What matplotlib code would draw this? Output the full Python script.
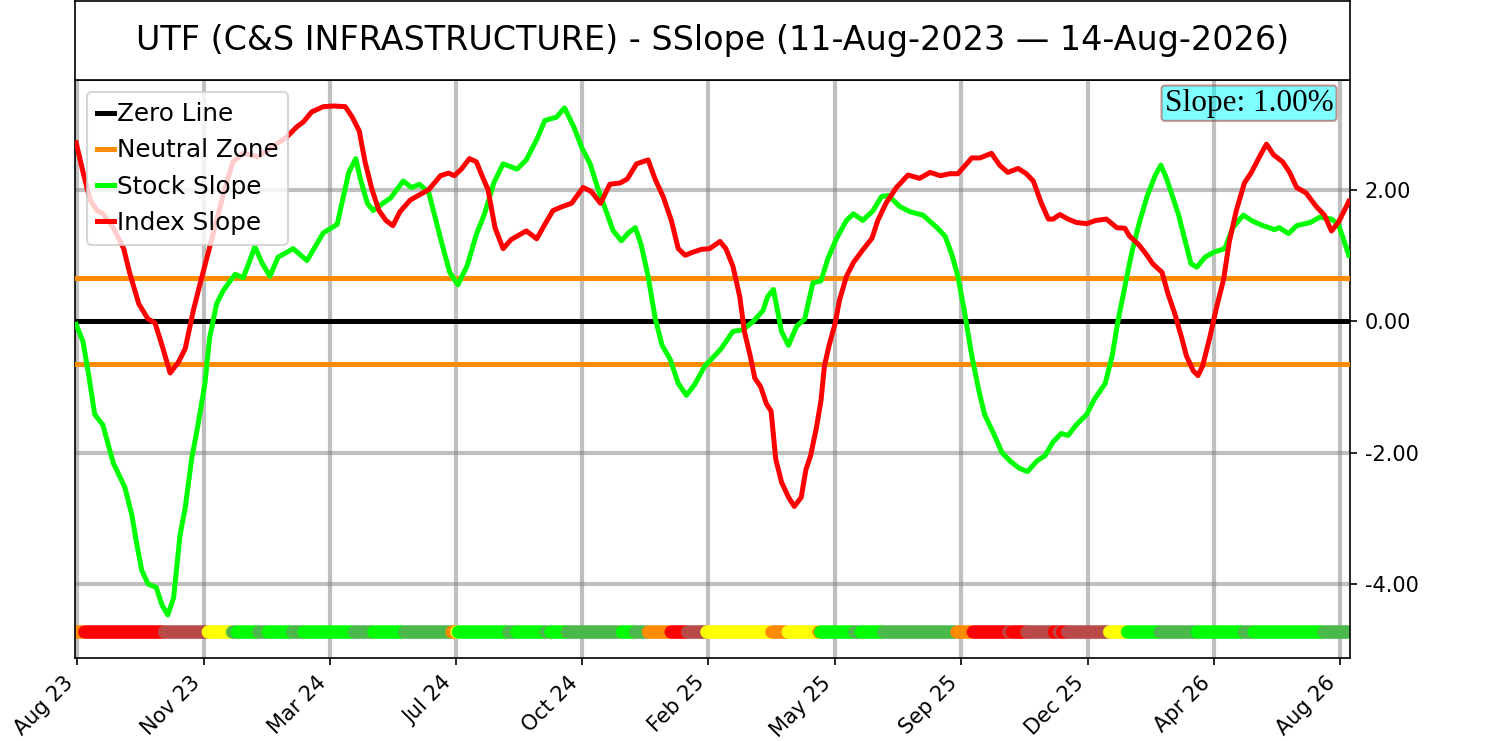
import numpy as np
import pandas as pd
import matplotlib
matplotlib.use("Agg")
import matplotlib.pyplot as plt
import matplotlib.dates as mdates
from matplotlib.ticker import FormatStrFormatter

# ---------------- data ----------------
START = pd.Timestamp("2023-08-11")
END = pd.Timestamp("2026-08-14")
TITLE = "UTF (C&S INFRASTRUCTURE) - SSlope (11-Aug-2023 \u2014 14-Aug-2026)"

stock_days = [1, 7, 11.5, 17, 24, 33, 43, 49, 53, 57.5, 63, 70, 75, 80, 85, 90.5, 95, 100.5, 106, 112,
              116, 122, 128, 138, 145, 149, 155, 161, 168, 175, 188, 200, 208, 214, 226, 230, 236, 242,
              246, 252, 257, 263, 272, 283, 290, 297, 305, 315, 323, 330, 338, 346, 353, 361, 369, 381,
              389, 398, 405, 415, 422, 430, 437, 444, 451, 458, 464, 471, 477, 483, 488, 494, 500, 506,
              513, 520, 527, 534, 543, 547, 557, 567, 576, 585, 593, 597, 602, 609, 615, 622, 629, 636,
              643, 649, 656, 665, 671, 679, 688, 695, 701, 711, 720, 731, 743, 750, 756, 761, 767, 773,
              779, 784, 791, 799, 806, 814, 821, 829, 836, 843, 850, 856, 863, 872, 879, 888, 894, 899,
              905, 911, 917, 924, 931, 936, 941, 947, 951, 957, 962, 967, 974, 982, 991, 998, 1007,
              1015, 1024, 1034, 1038, 1046, 1053, 1065, 1073, 1083, 1089, 1098]
stock_slope = [-0.05, -0.32, -0.79, -1.42, -1.58, -2.16, -2.53, -2.95, -3.37, -3.79, -4.0, -4.05, -4.32,
               -4.47, -4.21, -3.26, -2.84, -2.1, -1.58, -0.95, -0.26, 0.26, 0.47, 0.71, 0.66, 0.84, 1.13,
               0.89, 0.68, 0.97, 1.1, 0.92, 1.16, 1.34, 1.47, 1.79, 2.26, 2.47, 2.16, 1.79, 1.68, 1.76,
               1.87, 2.13, 2.03, 2.08, 1.95, 1.26, 0.74, 0.55, 0.84, 1.32, 1.63, 2.1, 2.39, 2.31, 2.45,
               2.76, 3.05, 3.1, 3.24, 2.95, 2.63, 2.39, 2.0, 1.66, 1.37, 1.22, 1.34, 1.42, 1.16, 0.68,
               0.05, -0.37, -0.58, -0.95, -1.13, -0.97, -0.68, -0.61, -0.42, -0.16, -0.13, 0.0, 0.16,
               0.37, 0.48, -0.16, -0.37, -0.08, 0.03, 0.58, 0.61, 0.95, 1.24, 1.53, 1.63, 1.53, 1.68,
               1.89, 1.91, 1.74, 1.66, 1.61, 1.42, 1.29, 1.0, 0.68, 0.11, -0.53, -1.05, -1.42, -1.68,
               -2.0, -2.13, -2.24, -2.29, -2.13, -2.05, -1.84, -1.71, -1.74, -1.58, -1.42, -1.18, -0.95,
               -0.53, 0.0, 0.53, 1.05, 1.47, 1.89, 2.21, 2.37, 2.16, 1.84, 1.63, 1.21, 0.87, 0.82, 0.97,
               1.05, 1.1, 1.42, 1.61, 1.52, 1.45, 1.39, 1.42, 1.33, 1.45, 1.5, 1.58, 1.55, 1.47, 1.0]

index_days = [1, 7, 13, 19, 24, 33, 42, 47, 55, 63, 69, 75, 82, 89, 95, 102, 108, 115, 122, 129, 136,
              145, 158, 171, 182, 191, 197, 204, 214, 223, 233, 239, 245, 250, 256, 262, 268, 274, 280,
              289, 297, 305, 315, 322, 327, 333, 340, 346, 352, 356, 362, 369, 376, 384, 389, 398, 405,
              412, 420, 428, 438, 445, 453, 461, 470, 476, 484, 494, 500, 507, 514, 520, 526, 533, 540,
              547, 556, 561, 567, 573, 577, 582, 586, 591, 596, 600, 604, 609, 615, 620, 626, 630, 634,
              639, 643, 646, 650, 655, 659, 665, 671, 679, 687, 692, 699, 708, 718, 728, 737, 746, 754,
              761, 773, 780, 790, 797, 804, 813, 820, 826, 833, 839, 843, 849, 856, 863, 872, 880, 889,
              898, 905, 909, 917, 924, 929, 937, 942, 948, 954, 958, 964, 968, 972, 978, 984, 990, 995,
              1001, 1008, 1014, 1021, 1027, 1033, 1041, 1047, 1053, 1061, 1070, 1077, 1083, 1089, 1098]
index_slope = [2.71, 2.26, 1.84, 1.68, 1.63, 1.42, 1.1, 0.74, 0.26, 0.03, -0.03, -0.37, -0.79, -0.63,
               -0.42, 0.16, 0.58, 1.05, 1.53, 2.0, 2.42, 2.55, 2.5, 2.66, 2.79, 2.95, 3.03, 3.18, 3.26,
               3.27, 3.26, 3.1, 2.89, 2.42, 2.0, 1.68, 1.53, 1.45, 1.66, 1.84, 1.92, 2.0, 2.21, 2.25,
               2.21, 2.31, 2.47, 2.42, 2.16, 2.0, 1.42, 1.1, 1.24, 1.32, 1.37, 1.25, 1.47, 1.68, 1.74,
               1.79, 2.03, 1.97, 1.79, 2.08, 2.1, 2.16, 2.39, 2.45, 2.16, 1.89, 1.53, 1.1, 1.0, 1.05,
               1.09, 1.1, 1.21, 1.1, 0.84, 0.37, -0.16, -0.53, -0.87, -1.0, -1.26, -1.37, -2.1, -2.45,
               -2.68, -2.82, -2.68, -2.26, -2.05, -1.63, -1.21, -0.68, -0.37, -0.05, 0.32, 0.68, 0.89,
               1.08, 1.26, 1.53, 1.79, 2.03, 2.22, 2.17, 2.26, 2.21, 2.24, 2.24, 2.48, 2.48, 2.55, 2.37,
               2.26, 2.32, 2.24, 2.13, 1.79, 1.55, 1.55, 1.62, 1.55, 1.5, 1.48, 1.53, 1.55, 1.42, 1.41,
               1.29, 1.16, 1.0, 0.87, 0.74, 0.42, 0.11, -0.26, -0.53, -0.76, -0.83, -0.68, -0.26, 0.21,
               0.63, 1.21, 1.68, 2.1, 2.26, 2.5, 2.69, 2.53, 2.42, 2.26, 2.03, 1.95, 1.74, 1.61, 1.37,
               1.5, 1.82]

# status band: segment start day and state
status_start_days = [0, 8, 76, 114, 135, 139, 157, 166, 187.5, 197, 240, 257, 284, 324, 328, 330, 373,
                     380, 405, 409, 423, 471, 482, 494, 513, 527, 544, 600, 614, 640, 642, 671, 677, 697,
                     760, 774, 805, 807, 820, 843, 848, 851, 855, 891, 907, 934, 966, 1007, 1016, 1076]
status_states = ["neutral", "down", "weak_down", "flat", "weak_up", "up", "weak_up", "up", "weak_up",
                 "up", "weak_up", "up", "weak_up", "neutral", "flat", "up", "weak_up", "up", "weak_up",
                 "up", "weak_up", "up", "weak_up", "neutral", "down", "weak_down", "flat", "neutral",
                 "flat", "neutral", "up", "weak_up", "up", "weak_up", "neutral", "down", "weak_down",
                 "down", "weak_down", "down", "weak_down", "down", "weak_down", "flat", "up", "weak_up",
                 "up", "weak_up", "up", "weak_up"]
status_colors = {"neutral": "#FF8C00", "down": "#FF0000", "weak_down": "#B94A48",
                 "flat": "#FFFF00", "up": "#00FF00", "weak_up": "#4BB84B"}
STATUS_ROW_Y = -4.73

neutral_level = 0.65
tick_dates = ["2023-08-13", "2023-11-30", "2024-03-18", "2024-07-04", "2024-10-21", "2025-02-07",
              "2025-05-27", "2025-09-13", "2025-12-31", "2026-04-19", "2026-08-05"]
y_ticks = [-4.0, -2.0, 0.0, 2.0]

# ---------------- plot ----------------
fig = plt.figure(figsize=(10, 4.94), dpi=150)
ax = fig.add_axes([0.05, 0.112, 0.85, 0.780])
ax_t = fig.add_axes([0.05, 0.892, 0.85, 0.1065])

ax_t.set_xticks([])
ax_t.set_yticks([])
ax_t.text(0.5, 0.5, TITLE, ha="center", va="center", fontsize=16, transform=ax_t.transAxes)

to_dates = lambda d: START + pd.to_timedelta(np.asarray(d, dtype=float), unit="D")

LW = 2.4
ax.axhline(0, color="black", lw=LW, label="Zero Line", zorder=3)
ax.axhline(neutral_level, color="#FF8C00", lw=LW, label="Neutral Zone", zorder=3)
ax.axhline(-neutral_level, color="#FF8C00", lw=LW, zorder=3)
ax.plot(to_dates(stock_days), stock_slope, color="#00FF00", lw=LW, label="Stock Slope", zorder=4)
ax.plot(to_dates(index_days), index_slope, color="#FF0000", lw=LW, label="Index Slope", zorder=5)

# status dots
total_days = (END - START).days
dot_days = np.arange(0, total_days, 1.4)
seg_idx = np.searchsorted(np.asarray(status_start_days), dot_days, side="right") - 1
dot_cols = [status_colors[status_states[i]] for i in seg_idx]
ax.scatter(to_dates(dot_days), np.full(len(dot_days), STATUS_ROW_Y), c=dot_cols, s=28,
           edgecolors="face", zorder=2)

ax.set_xlim(START, END)
ax.set_ylim(-5.125, 3.665)
ax.yaxis.tick_right()
ax.set_yticks(y_ticks)
ax.yaxis.set_major_formatter(FormatStrFormatter("%.2f"))
ax.set_xticks(pd.to_datetime(tick_dates))
ax.xaxis.set_major_formatter(mdates.DateFormatter("%b %y"))
plt.setp(ax.get_xticklabels(), rotation=45, ha="right")
ax.tick_params(labelsize=10)
ax.grid(True, color="gray", alpha=0.5, lw=2, zorder=1)
ax.set_axisbelow(True)

ax.legend(loc="upper left", fontsize=11.8, handlelength=0.7, handletextpad=0.1,
          borderaxespad=0.5)
ax.text(0.987, 0.985, "Slope: 1.00%", transform=ax.transAxes, ha="right", va="top",
        fontsize=15, family="Liberation Serif",
        bbox=dict(boxstyle="round,pad=0.1", fc="cyan", ec="brown", alpha=0.5), zorder=6)

fig.savefig("out.png", dpi=150)
